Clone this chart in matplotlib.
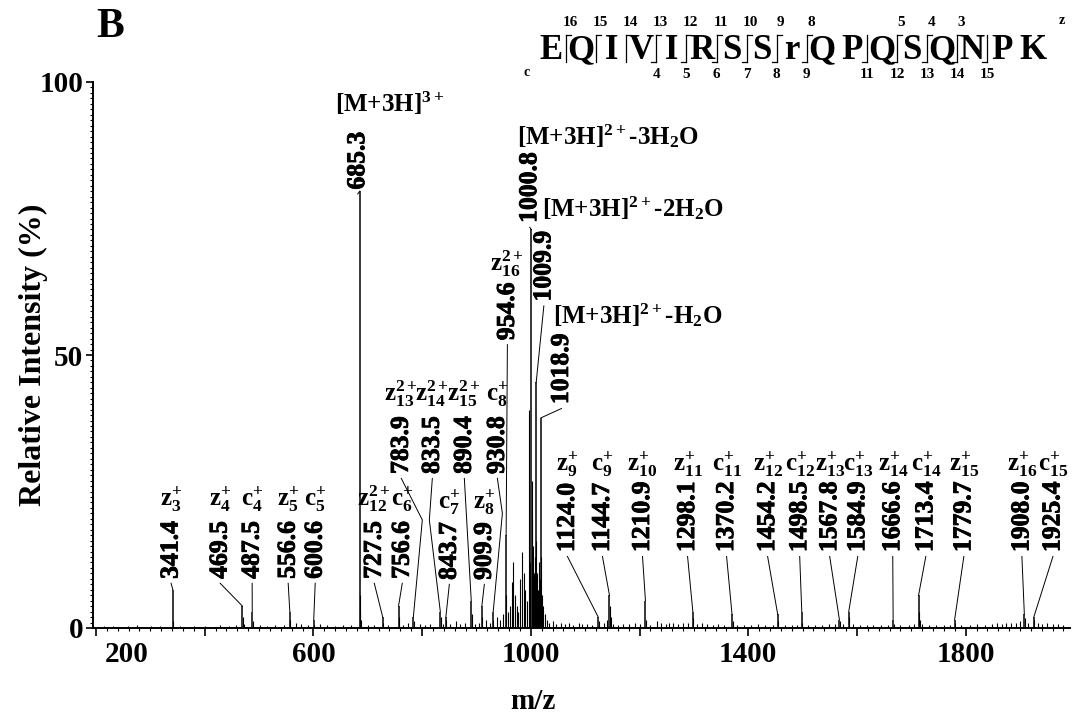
import matplotlib
matplotlib.use('Agg')
import matplotlib.pyplot as plt
from matplotlib.lines import Line2D
from matplotlib.transforms import ScaledTranslation
import matplotlib.patheffects as pe
import numpy as np

plt.rcParams['font.family'] = ['Liberation Serif', 'DejaVu Serif']
plt.rcParams['font.weight'] = 'bold'
plt.rcParams['mathtext.fontset'] = 'custom'
plt.rcParams['mathtext.rm'] = 'Liberation Serif:bold'
plt.rcParams['mathtext.it'] = 'Liberation Serif:bold'
plt.rcParams['mathtext.bf'] = 'Liberation Serif:bold'

# ---------------- data ----------------
ion_mz = [341.4, 469.5, 487.5, 556.6, 600.6, 685.3, 727.5, 756.6, 783.9, 833.5,
          843.7, 890.4, 909.9, 930.8, 954.6, 1000.8, 1009.9, 1018.9, 1124.0, 1144.7,
          1210.9, 1298.1, 1370.2, 1454.2, 1498.5, 1567.8, 1584.9, 1666.6, 1713.4,
          1779.7, 1908.0, 1925.4]
ion_int = [7, 4, 3, 3, 1.5, 80, 2, 4, 2, 3,
           2, 5, 4, 3, 17, 73, 45, 38.5, 2, 6,
           5, 3, 2.5, 2.5, 3, 1.5, 3, 1.5, 6,
           1.5, 2.5, 2]
ion_names = ['z|3|+', 'z|4|+', 'c|4|+', 'z|5|+', 'c|5|+', 'M3', 'z|12|2+', 'c|6|+',
             'z|13|2+', 'z|14|2+', 'c|7|+', 'z|15|2+', 'z|8|+', 'c|8|+', 'z|16|2+',
             'M3W', 'M2W', 'M1W', 'z|9|+', 'c|9|+', 'z|10|+', 'z|11|+', 'c|11|+',
             'z|12|+', 'c|12|+', 'z|13|+', 'c|13|+', 'z|14|+', 'c|14|+', 'z|15|+',
             'z|16|+', 'c|15|+']
precursor_labels = {
    'M3': r'[M+3H]$^{3+}$',
    'M3W': r'[M+3H]$^{2+}$-3H$_{2}$O',
    'M2W': r'[M+3H]$^{2+}$-2H$_{2}$O',
    'M1W': r'[M+3H]$^{2+}$-H$_{2}$O',
}

minor_mz = [215, 232, 258, 275, 301, 318, 342.4, 355, 380, 401, 428, 445, 458, 470.5,
            471.5, 488.5, 502, 515, 530, 545, 557.6, 568, 578, 590, 601.6, 612, 625,
            640, 655, 670, 686.3, 686.6, 687.3, 700, 712, 728.5, 738, 757.6, 765, 774,
            784.4, 796, 805, 815, 834, 838, 844.2, 852, 862, 870, 878, 890.9, 897, 904,
            910.4, 918, 925, 931.3, 937, 943, 948, 955.1, 958, 962, 966, 968, 971, 974,
            977, 981, 984, 987, 990, 993, 995.8, 998, 1001.3, 1002.5, 1004, 1006, 1008,
            1010.4, 1011.5, 1013, 1015, 1017, 1019.4, 1021, 1023, 1026, 1029, 1033,
            1040, 1047, 1055, 1062, 1070, 1078, 1088, 1095, 1103, 1112, 1125, 1135,
            1141, 1145.7, 1146.7, 1152, 1160, 1170, 1180, 1191, 1200, 1211.9, 1220,
            1232, 1240, 1248, 1255, 1262, 1270, 1280, 1289, 1299.1, 1305, 1315, 1325,
            1335, 1345, 1355, 1371.2, 1380, 1392, 1405, 1418, 1430, 1445, 1455.2,
            1468, 1480, 1490, 1499.5, 1510, 1522, 1535, 1548, 1560, 1568.8, 1574,
            1585.9, 1592, 1605, 1618, 1630, 1645, 1658, 1667.6, 1680, 1695, 1705,
            1714.4, 1715.4, 1720, 1732, 1745, 1760, 1772, 1780.7, 1792, 1808, 1820,
            1835, 1848, 1858, 1866, 1875, 1884, 1893, 1900, 1909.0, 1915, 1926.4,
            1933, 1941, 1950, 1960, 1970, 1980]
minor_int = [0.3, 0.4, 0.3, 0.5, 0.4, 0.3, 1.2, 0.3, 0.4, 0.3, 0.5, 0.4, 0.6, 2.0,
             0.8, 1.2, 0.5, 0.4, 0.5, 0.6, 1.5, 1.0, 0.8, 0.6, 0.6, 0.8, 0.5,
             0.4, 0.5, 0.6, 6, 3, 1.5, 0.6, 0.5, 1.0, 0.6, 2.0, 0.5, 1.0,
             1.2, 0.8, 0.6, 0.7, 2.0, 0.8, 1.5, 0.8, 1.2, 0.7, 1.0, 2.5, 0.8, 0.9,
             2.0, 1.5, 0.9, 1.5, 2.0, 1.5, 2.5, 6, 3, 4, 8.5, 12, 6, 4,
             3, 9, 14, 10, 7, 5, 40, 12, 20, 27, 15, 10, 13,
             16, 10, 7, 12, 9, 13, 6, 4, 2.5, 1.5, 1.0,
             1.2, 0.8, 1.0, 0.7, 1.0, 0.6, 0.9, 0.7, 0.8, 0.6, 1.2, 0.9,
             1.5, 4, 2, 0.8, 0.6, 0.8, 0.7, 0.9, 0.8, 1.5, 0.6,
             1.2, 1.0, 0.8, 1.0, 0.9, 0.8, 0.9, 1.0, 1.8, 0.8, 1.0, 0.7,
             0.6, 0.7, 0.6, 1.2, 0.6, 0.5, 0.6, 0.7, 0.5, 0.6, 1.2,
             0.6, 0.5, 0.6, 1.0, 0.6, 0.5, 0.6, 0.7, 0.8, 1.2, 0.8,
             2, 0.8, 0.6, 0.5, 0.6, 0.5, 0.5, 0.8, 0.6, 0.5, 0.8,
             3, 1.5, 0.8, 0.6, 0.5, 0.5, 0.6, 1.0, 0.5, 0.6, 0.7,
             0.6, 0.8, 1.0, 0.8, 0.9, 1.0, 0.9, 1.2, 1.8, 0.9, 1.5,
             1.0, 0.8, 0.9, 0.7, 0.8, 0.6]

sequence = "EQIVIRSSrQPQSQNPK"
z_ions_seen = [16, 15, 14, 13, 12, 11, 10, 9, 8, 5, 4, 3]
c_ions_seen = [4, 5, 6, 7, 8, 9, 11, 12, 13, 14, 15]

x_labeled_ticks = [600, 1000, 1400, 1800]
y_ticks = [0, 50, 100]

# ---------------- layout (label placement) ----------------
label_x = [338.1, 428.4, 487.3, 553.6, 603.3, 681.5, 712.0, 763.5, 761.7, 818.8,
           850.1, 877.7, 914.5, 938.5, 956.9, 998.0, 1024.0, 1056.4, 1067.4, 1131.8,
           1205.5, 1288.4, 1360.2, 1435.7, 1494.7, 1549.9, 1601.5, 1665.9, 1726.7,
           1796.7, 1903.5, 1960.6]
num_y = [9.0, 9.0, 9.0, 9.0, 9.0, 80.3, 9.0, 9.0, 28.2, 28.2,
         8.8, 28.2, 8.8, 28.2, 52.7, 74.2, 59.8, 41.0, 13.9, 13.9,
         13.9, 13.9, 13.9, 13.9, 13.9, 13.9, 13.9, 13.9, 13.9,
         13.9, 13.9, 13.9]
ion_y = [20.8, 20.8, 20.8, 20.8, 20.8, 93.6, 20.8, 20.8, 40.2, 40.2,
         20.3, 40.2, 20.3, 40.2, 64.0, 87.6, 74.4, 54.8, 27.3, 27.3,
         27.3, 27.3, 27.3, 27.3, 27.3, 27.3, 27.3, 27.3, 27.3,
         27.3, 27.3, 27.3]
precursor_label_x = {'M3': 640.0, 'M3W': 975.0, 'M2W': 1020.0, 'M1W': 1040.5}
knees = {8: (800.4, 19.8), 9: (813.3, 19.8), 13: (947.7, 21.0)}

W, H = 1073, 718
fig = plt.figure(figsize=(W / 100, H / 100), dpi=100)
ax = fig.add_axes([93 / W, 1 - 628 / H, 977 / W, 546 / H])

ax.vlines(minor_mz, 0, minor_int, color='black', lw=0.8)
ax.vlines(ion_mz, 0, ion_int, color='black', lw=1.1)

thick = [pe.withStroke(linewidth=0.6, foreground='black')]
num_fs = 18.5
ion_fs = 18
for i, (mz, h, name) in enumerate(zip(ion_mz, ion_int, ion_names)):
    lx, ny, iy = label_x[i], num_y[i], ion_y[i]
    ax.text(lx, ny, f"{mz:.1f}", rotation=90, ha='center', va='bottom',
            fontsize=num_fs, fontweight='bold', path_effects=thick)
    if name in precursor_labels:
        ax.text(precursor_label_x[name], iy, precursor_labels[name], ha='left',
                va='bottom', fontsize=ion_fs, fontweight='bold')
    else:
        t, n, ch = name.split('|')
        ax.text(lx, iy, r"$\mathrm{%s}_{%s}^{%s}$" % (t, n, ch), ha='center',
                va='bottom', fontsize=ion_fs)
    xs = [lx]
    ys = [ny - 0.8]
    if i in knees:
        xs.append(knees[i][0])
        ys.append(knees[i][1])
    xs.append(mz)
    ys.append(h)
    ax.plot(xs, ys, color='black', lw=0.7)

ax.set_xlim(194.5, 1992)
ax.set_ylim(0, 100)
for s in ['top', 'right']:
    ax.spines[s].set_visible(False)
for s in ['left', 'bottom']:
    ax.spines[s].set_linewidth(1.4)

major_x = np.arange(200, 1801, 200)
ax.set_xticks(major_x)
ax.set_xticklabels([str(v) if v in x_labeled_ticks else '' for v in major_x])
ax.set_xticks(np.arange(200, 1992, 20), minor=True)
ax.set_yticks(y_ticks)
ax.set_yticklabels([str(v) for v in y_ticks])
ax.set_yticks(np.arange(0, 101, 1), minor=True)
ax.tick_params(axis='x', which='major', length=6, width=1.2, direction='out',
               labelsize=21, pad=3.5)
ax.tick_params(axis='x', which='minor', length=2.5, width=0.8, direction='out')
ax.tick_params(axis='y', which='major', length=5, width=1.2, direction='out',
               labelsize=21, pad=2)
ax.tick_params(axis='y', which='minor', length=2.5, width=0.8, direction='out')

ax.text(200, 0, '200', ha='center', va='top', fontsize=21, fontweight='bold',
        transform=ax.transData + ScaledTranslation(0.31, -0.125, fig.dpi_scale_trans))

ax.set_ylabel('Relative Intensity (%)', fontsize=23, fontweight='bold')
ax.yaxis.set_label_coords(-0.046, 0.5)
ax.set_xlabel('m/z', fontsize=21, fontweight='bold')
ax.xaxis.set_label_coords(0.450, -0.110)

# panel letter
fig.text(110 / W, 1 - 27 / H, 'B', ha='center', va='center', fontsize=30,
         fontweight='bold')

# sequence header
hx0, dx = 551.0, 30.1
base_y = 59.0
for i, ch in enumerate(sequence):
    fig.text((hx0 + i * dx) / W, 1 - base_y / H, ch, ha='center', va='baseline',
             fontsize=25, fontweight='bold')
ntot = len(sequence)
for i in range(1, ntot):
    xm = hx0 + (i - 0.5) * dx
    zn = ntot - i
    has_z = zn in z_ions_seen
    has_c = i in c_ions_seen
    if not (has_z or has_c):
        continue
    top, bot = 35.0, 62.0
    fig.add_artist(Line2D([xm / W, xm / W], [1 - top / H, 1 - bot / H],
                          transform=fig.transFigure, color='black', lw=0.9))
    if has_z:
        fig.add_artist(Line2D([xm / W, (xm + 5) / W], [1 - top / H, 1 - top / H],
                              transform=fig.transFigure, color='black', lw=0.9))
        fig.text((xm + 4) / W, 1 - 23 / H, str(zn), ha='center', va='center',
                 fontsize=11, fontweight='bold')
    if has_c:
        fig.add_artist(Line2D([(xm - 5) / W, xm / W], [1 - bot / H, 1 - bot / H],
                              transform=fig.transFigure, color='black', lw=0.9))
        fig.text(xm / W, 1 - 74 / H, str(i), ha='center', va='center',
                 fontsize=11, fontweight='bold')
fig.text(527 / W, 1 - 73 / H, 'c', ha='center', va='center', fontsize=10,
         fontweight='bold')
fig.text(1062 / W, 1 - 20 / H, 'z', ha='center', va='center', fontsize=10,
         fontweight='bold')

fig.savefig('out.png', dpi=100)
